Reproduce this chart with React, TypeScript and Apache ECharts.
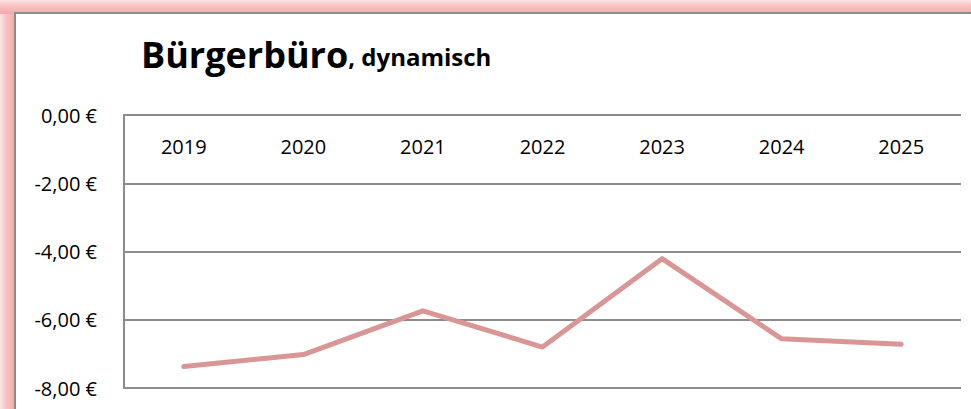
import React, { useEffect, useRef } from "react";
import * as echarts from "echarts";

const categories = ["2019", "2020", "2021", "2022", "2023", "2024", "2025"];
const values = [-7.37, -7.02, -5.74, -6.8, -4.21, -6.56, -6.72];
const yMin = -8;
const yMax = 0;
const yStep = 2;
const titleMain = "Bürgerbüro";
const titleSub = ", dynamisch";

export default function App() {
  const ref = useRef<HTMLDivElement>(null);
  useEffect(() => {
    if (!ref.current) return;
    const chart = echarts.init(ref.current, null, { renderer: "svg" });
    const font = "'Open Sans', 'Noto Sans', sans-serif";
    chart.setOption({
      animation: false,
      backgroundColor: "#ffffff",
      graphic: [
        {
          type: "rect",
          z: -100,
          silent: true,
          shape: { x: 0, y: 0, width: 971, height: 409 },
          style: { fill: "#ffffff" },
        },
        {
          type: "rect",
          z: -99,
          silent: true,
          shape: { x: 0, y: 0, width: 16, height: 409 },
          style: {
            fill: new echarts.graphic.LinearGradient(0, 0, 1, 0, [
              { offset: 0, color: "#fce6e6" },
              { offset: 0.4, color: "#f8c2c2" },
              { offset: 1, color: "#f4a9a9" },
            ]),
          },
        },
        {
          type: "rect",
          z: -99,
          silent: true,
          shape: { x: 0, y: 0, width: 971, height: 14 },
          style: {
            fill: new echarts.graphic.LinearGradient(0, 0, 0, 1, [
              { offset: 0, color: "#fce6e6" },
              { offset: 0.4, color: "#f8c2c2" },
              { offset: 1, color: "#f4a9a9" },
            ]),
          },
        },
        {
          type: "rect",
          z: -98,
          silent: true,
          shape: { x: 15, y: 13, width: 970, height: 410 },
          style: { fill: "#ffffff", stroke: "#8c8c8c", lineWidth: 2 },
        },
        {
          type: "text",
          z: 10,
          left: 141,
          top: 36,
          style: {
            text: `{a|${titleMain}}{b|${titleSub}}`,
            rich: {
              a: { fontFamily: font, fontWeight: "bold", fontSize: 36, fill: "#000", verticalAlign: "bottom" },
              b: { fontFamily: font, fontWeight: "bold", fontSize: 24, fill: "#000", verticalAlign: "bottom", padding: [0, 0, 4, 0] },
            },
          },
        },
      ],
      grid: { left: 124, top: 115, right: 10, bottom: 21, containLabel: false },
      xAxis: {
        type: "category",
        data: categories,
        position: "top",
        boundaryGap: true,
        axisLine: { show: false },
        axisTick: { show: false },
        axisLabel: { inside: true, margin: 21, fontFamily: font, fontSize: 20, color: "#000" },
      },
      yAxis: {
        type: "value",
        min: yMin,
        max: yMax,
        interval: yStep,
        axisLine: { show: true, lineStyle: { color: "#8c8c8c", width: 2 } },
        axisTick: { show: false },
        splitLine: { show: true, lineStyle: { color: "#8c8c8c", width: 2 } },
        axisLabel: {
          margin: 27,
          fontFamily: font,
          fontSize: 20,
          color: "#000",
          formatter: (v: number) => v.toFixed(2).replace(".", ",") + " €",
        },
      },
      series: [
        {
          type: "line",
          data: values,
          showSymbol: false,
          symbol: "none",
          lineStyle: { color: "#d99694", width: 5, cap: "round", join: "round" },
        },
      ],
    });
    return () => chart.dispose();
  }, []);
  return (
    <div
      ref={ref}
      style={{ position: "absolute", left: 0, top: 0, width: 971, height: 409 }}
    />
  );
}
